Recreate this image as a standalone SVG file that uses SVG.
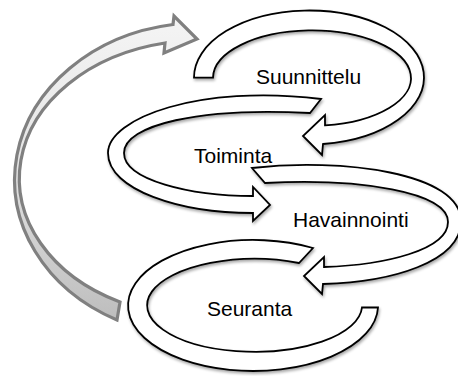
<svg xmlns="http://www.w3.org/2000/svg" width="458" height="376" viewBox="0 0 458 376">
<style>
.rib{fill:#fff;stroke:#000;stroke-width:1.8;stroke-linejoin:miter;filter:url(#sh)}
.lbl{font-family:"Liberation Sans",Arial,sans-serif;font-size:21px;fill:#000}
.big{fill:url(#gg);stroke:#808080;stroke-width:3.2;stroke-linejoin:miter}
</style>
<defs>
<filter id="sh" x="-10%" y="-10%" width="130%" height="130%">
<feGaussianBlur in="SourceAlpha" stdDeviation="1.6"/>
<feOffset dx="1" dy="2" result="b"/>
<feComponentTransfer><feFuncA type="linear" slope="0.35"/></feComponentTransfer>
<feMerge><feMergeNode/><feMergeNode in="SourceGraphic"/></feMerge>
</filter>
<linearGradient id="gg" gradientUnits="userSpaceOnUse" x1="0" y1="20" x2="0" y2="320">
<stop offset="0" stop-color="#f4f4f4"/>
<stop offset="0.45" stop-color="#e6e6e6"/>
<stop offset="1" stop-color="#bdbdbd"/>
</linearGradient>
</defs>
<g id="connectors">
<path id="cycle-arrow" class="big" d="M117,320 A186,157 0 0 1 173,24.5 L174,16 L197,39 L164,53 L165,43 A181,138 0 0 0 120,302 Z"/>
</g>
<g id="suunnittelu">
<path class="rib" d="M194,77.5 A115,67 0 1 1 323,144 L322,155 L303,136 L325,115 L325,125.4 A99,47.7 0 1 0 213,77.7 Z"/>
<text class="lbl" x="256" y="84">Suunnittelu</text>
</g>
<g id="toiminta">
<path class="rib" d="M321,99 C200,84 108,118 108,153 C108,190 180,213 253,213 L253,221 L270,205 L253,187 L253,196 C190,196 124,180 124,153 C124,125 200,107 310,113 Z"/>
<text class="lbl" x="194" y="163">Toiminta</text>
</g>
<g id="havainnointi">
<path class="rib" d="M252,168 C340,158 462,172 461,222 C460,262 392,282 323,284 L322,294 L304,276 L324,257 L324,267 C385,265 448,250 448,222 C448,192 360,178 265,183 Z"/>
<text class="lbl" x="293" y="227">Havainnointi</text>
</g>
<g id="seuranta">
<path class="rib" d="M313,248 A125,65.5 0 1 0 378,307.5 L362,307.5 A107.5,46.5 0 1 1 299,263 Z"/>
<text class="lbl" x="207" y="316">Seuranta</text>
</g>
</svg>
